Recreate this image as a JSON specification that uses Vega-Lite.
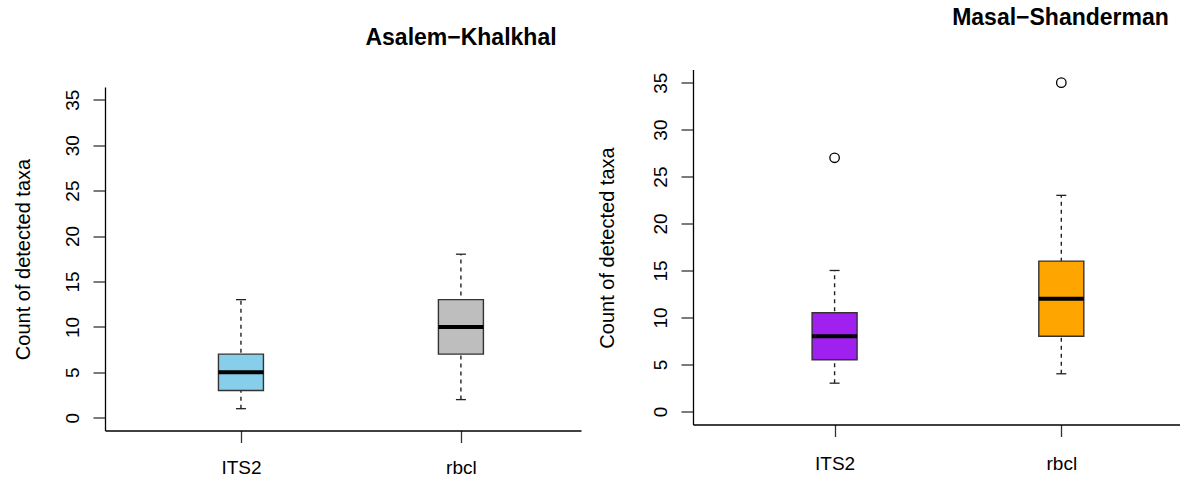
{
  "$schema": "https://vega.github.io/schema/vega-lite/v6.json",
  "background": "white",
  "padding": {"left": 13, "top": 6.5, "right": 0, "bottom": 0},
  "spacing": 16,
  "resolve": {"scale": {"fill": "independent"}},
  "config": {
    "font": "Liberation Sans",
    "view": {"stroke": null},
    "tick": {"opacity": 1},
    "point": {"opacity": 1},
    "axis": {
      "grid": false,
      "domainColor": "#000000",
      "domainWidth": 1.3,
      "tickColor": "#333333",
      "tickWidth": 1.3,
      "tickSize": 12,
      "labelFont": "Liberation Sans",
      "labelFontSize": 19,
      "labelColor": "#000000",
      "titleFont": "Liberation Sans",
      "titleFontSize": 20,
      "titleFontWeight": "normal",
      "titleColor": "#000000"
    },
    "title": {
      "font": "Liberation Sans",
      "fontSize": 23,
      "fontWeight": "bold",
      "color": "#000000",
      "anchor": "middle",
      "frame": "group",
      "baseline": "alphabetic",
      "offset": 40
    }
  },
  "datasets": {
    "asalem": [
      {"marker": "ITS2", "lower": 1, "q1": 3, "median": 5, "q3": 7, "upper": 13},
      {"marker": "rbcl", "lower": 2, "q1": 7, "median": 10, "q3": 13, "upper": 18}
    ],
    "masal": [
      {"marker": "ITS2", "lower": 3, "q1": 5.5, "median": 8, "q3": 10.5, "upper": 15},
      {"marker": "rbcl", "lower": 4, "q1": 8, "median": 12, "q3": 16, "upper": 23}
    ],
    "masal_outliers": [
      {"marker": "ITS2", "taxa": 27},
      {"marker": "rbcl", "taxa": 35}
    ]
  },
  "hconcat": [
    {
      "width": 476,
      "height": 361,
      "title": {"text": "Asalem−Khalkhal", "dx": 118, "dy": 20},
      "data": {"name": "asalem"},
      "encoding": {
        "x": {
          "field": "marker",
          "type": "nominal",
          "sort": ["ITS2", "rbcl"],
          "scale": {"type": "point", "padding": 0.582, "align": 0.531},
          "axis": {"title": null, "labelAngle": 0, "labelPadding": 15.5}
        }
      },
      "layer": [
        {
          "mark": {"type": "rule", "strokeDash": [4, 4], "strokeWidth": 1.4, "color": "#222222"},
          "encoding": {
            "y": {
              "field": "lower",
              "type": "quantitative",
              "title": "Count of detected taxa",
              "scale": {"domain": [-1.4, 36.4], "range": [361, 17.5], "nice": false, "zero": false},
              "axis": {
                "values": [0, 5, 10, 15, 20, 25, 30, 35],
                "labelAngle": -90,
                "labelAlign": "center",
                "labelBaseline": "alphabetic",
                "labelPadding": 15,
                "titleAngle": -90,
                "titleAlign": "center",
                "titleBaseline": "alphabetic",
                "titleX": -76,
                "titleY": 189.5
              }
            },
            "y2": {"field": "upper"}
          }
        },
        {
          "mark": {"type": "tick", "size": 10, "thickness": 1.3, "color": "#222222", "opacity": 1},
          "encoding": {"y": {"field": "lower", "type": "quantitative", "title": "Count of detected taxa"}}
        },
        {
          "mark": {"type": "tick", "size": 10, "thickness": 1.3, "color": "#222222", "opacity": 1},
          "encoding": {"y": {"field": "upper", "type": "quantitative", "title": "Count of detected taxa"}}
        },
        {
          "mark": {"type": "bar", "size": 45, "stroke": "#333333", "strokeWidth": 1.4},
          "encoding": {
            "y": {"field": "q1", "type": "quantitative", "title": "Count of detected taxa"},
            "y2": {"field": "q3"},
            "fill": {
              "field": "marker",
              "type": "nominal",
              "scale": {"domain": ["ITS2", "rbcl"], "range": ["#87CEEB", "#BEBEBE"]},
              "legend": null
            }
          }
        },
        {
          "mark": {"type": "tick", "size": 45, "thickness": 4, "color": "#000000", "opacity": 1},
          "encoding": {"y": {"field": "median", "type": "quantitative", "title": "Count of detected taxa"}}
        }
      ]
    },
    {
      "width": 487,
      "height": 355,
      "title": {"text": "Masal−Shanderman", "dx": 124},
      "data": {"name": "masal"},
      "encoding": {
        "x": {
          "field": "marker",
          "type": "nominal",
          "sort": ["ITS2", "rbcl"],
          "scale": {"type": "point", "padding": 0.574, "align": 0.544},
          "axis": {"title": null, "labelAngle": 0, "labelPadding": 18}
        }
      },
      "layer": [
        {
          "mark": {"type": "rule", "strokeDash": [4, 4], "strokeWidth": 1.4, "color": "#222222"},
          "encoding": {
            "y": {
              "field": "lower",
              "type": "quantitative",
              "title": "Count of detected taxa",
              "scale": {"domain": [-1.4, 36.4], "nice": false, "zero": false},
              "axis": {
                "values": [0, 5, 10, 15, 20, 25, 30, 35],
                "labelAngle": -90,
                "labelAlign": "center",
                "labelBaseline": "alphabetic",
                "labelPadding": 15,
                "titleAngle": -90,
                "titleAlign": "center",
                "titleBaseline": "alphabetic",
                "titleX": -80,
                "titleY": 178
              }
            },
            "y2": {"field": "upper"}
          }
        },
        {
          "mark": {"type": "tick", "size": 10, "thickness": 1.3, "color": "#222222", "opacity": 1},
          "encoding": {"y": {"field": "lower", "type": "quantitative", "title": "Count of detected taxa"}}
        },
        {
          "mark": {"type": "tick", "size": 10, "thickness": 1.3, "color": "#222222", "opacity": 1},
          "encoding": {"y": {"field": "upper", "type": "quantitative", "title": "Count of detected taxa"}}
        },
        {
          "mark": {"type": "bar", "size": 45, "stroke": "#333333", "strokeWidth": 1.4},
          "encoding": {
            "y": {"field": "q1", "type": "quantitative", "title": "Count of detected taxa"},
            "y2": {"field": "q3"},
            "fill": {
              "field": "marker",
              "type": "nominal",
              "scale": {"domain": ["ITS2", "rbcl"], "range": ["#A020F0", "#FFA500"]},
              "legend": null
            }
          }
        },
        {
          "mark": {"type": "tick", "size": 45, "thickness": 4, "color": "#000000", "opacity": 1},
          "encoding": {"y": {"field": "median", "type": "quantitative", "title": "Count of detected taxa"}}
        },
        {
          "data": {"name": "masal_outliers"},
          "mark": {"type": "point", "shape": "circle", "filled": false, "size": 90, "strokeWidth": 1.3, "color": "#000000", "opacity": 1},
          "encoding": {"y": {"field": "taxa", "type": "quantitative", "title": "Count of detected taxa"}}
        }
      ]
    }
  ]
}
